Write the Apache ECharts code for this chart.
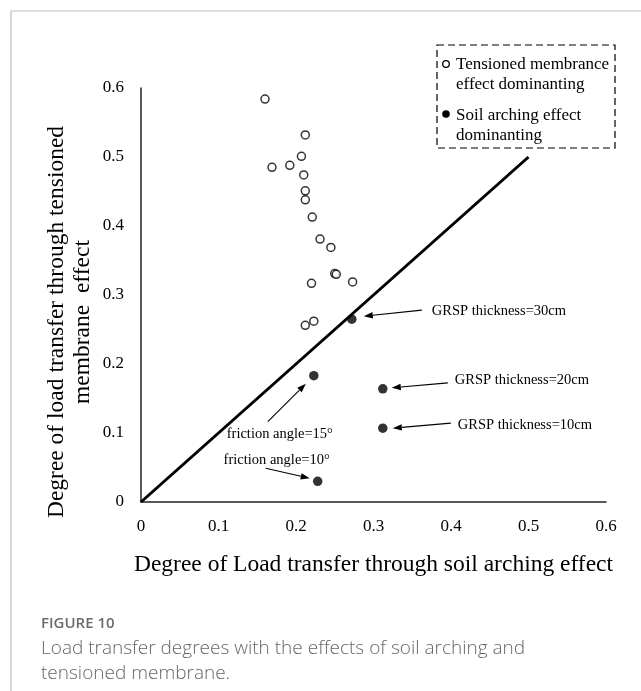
<!DOCTYPE html>
<html>
<head>
<meta charset="utf-8">
<style>
  html, body { margin: 0; padding: 0; background: #fff; }
  #chart { width: 641px; height: 691px; }
</style>
<script src="https://cdn.jsdelivr.net/npm/echarts@6/dist/echarts.min.js"></script>
</head>
<body>
<div id="chart"></div>
<script>
// Cases where the tensioned membrane effect dominates (open circles)
const membraneX = [0.160, 0.212, 0.207, 0.169, 0.192, 0.210, 0.212, 0.212, 0.221, 0.231, 0.245, 0.250, 0.252, 0.273, 0.220, 0.212, 0.223];
const membraneY = [0.584, 0.532, 0.501, 0.485, 0.488, 0.474, 0.451, 0.438, 0.413, 0.381, 0.369, 0.331, 0.330, 0.319, 0.317, 0.256, 0.262];

// Cases where soil arching dominates (filled circles)
const archingX = [0.272, 0.223, 0.312, 0.312, 0.228];
const archingY = [0.265, 0.183, 0.164, 0.107, 0.030];
const archingNotes = ['GRSP thickness=30cm', 'friction angle=15°', 'GRSP thickness=20cm', 'GRSP thickness=10cm', 'friction angle=10°'];

// Equal-share reference line
const refX = [0, 0.5];
const refY = [0, 0.5];

// Axis ticks
const xTicks = [0, 0.1, 0.2, 0.3, 0.4, 0.5, 0.6];
const yTicks = [0, 0.1, 0.2, 0.3, 0.4, 0.5, 0.6];

const serif = '"Liberation Serif", "Times New Roman", serif';
const chart = echarts.init(document.getElementById('chart'), null, { renderer: 'canvas' });

const zip = (xs, ys) => xs.map((x, i) => [x, ys[i]]);

chart.setOption({
  backgroundColor: '#fff',
  animation: false,
  grid: { left: 141, right: 35, top: 88, bottom: 189, containLabel: false },
  xAxis: {
    type: 'value',
    min: xTicks[0], max: xTicks[xTicks.length - 1], interval: 0.1,
    axisLine: { show: true, lineStyle: { color: '#222', width: 1.5 } },
    axisTick: { show: false },
    splitLine: { show: false },
    axisLabel: { color: '#000', fontFamily: serif, fontSize: 17, margin: 16,
                 formatter: v => (Math.round(v * 10) / 10).toString() },
    name: 'Degree of Load transfer through soil arching effect',
    nameLocation: 'middle', nameGap: 51,
    nameTextStyle: { color: '#000', fontFamily: serif, fontSize: 23.5 }
  },
  yAxis: {
    type: 'value',
    min: yTicks[0], max: yTicks[yTicks.length - 1], interval: 0.1,
    axisLine: { show: true, lineStyle: { color: '#222', width: 1.5 } },
    axisTick: { show: false },
    splitLine: { show: false },
    axisLabel: { color: '#000', fontFamily: serif, fontSize: 17, margin: 17,
                 formatter: v => (Math.round(v * 10) / 10).toString() }
  },
  series: [
    {
      type: 'line', data: zip(refX, refY), symbol: 'none', silent: true,
      lineStyle: { color: '#000', width: 3 }, z: 1
    },
    {
      type: 'scatter', data: zip(membraneX, membraneY), symbol: 'circle', symbolSize: 8,
      itemStyle: { color: '#fff', borderColor: '#000', borderWidth: 1.5 }, z: 3
    },
    {
      type: 'scatter', data: zip(archingX, archingY), symbol: 'circle', symbolSize: 9.5,
      itemStyle: { color: '#000' }, z: 3
    }
  ]
});

// Annotation layout: arrow tip, arrow tail and label anchor, offset from each filled point (px)
const noteLayout = [
  { tip: [12, -3], tail: [70, -9], text: [80, -8], align: 'left' },
  { tip: [-8, 8], tail: [-46, 46], text: [-34, 58], align: 'center' },
  { tip: [9, -1], tail: [65, -6], text: [72, -9], align: 'left' },
  { tip: [10, 0], tail: [68, -5], text: [75, -3], align: 'left' },
  { tip: [-8, -3], tail: [-52, -13], text: [-41, -21], align: 'center' }
];

function arrow(x1, y1, x2, y2) {
  const ang = Math.atan2(y2 - y1, x2 - x1);
  const len = 9, half = 3.2;
  const bx = x2 - len * Math.cos(ang), by = y2 - len * Math.sin(ang);
  const px = -Math.sin(ang) * half, py = Math.cos(ang) * half;
  return [
    { type: 'line', shape: { x1: x1, y1: y1, x2: bx, y2: by }, style: { stroke: '#000', lineWidth: 1.1 }, z: 5 },
    { type: 'polygon', shape: { points: [[x2, y2], [bx + px, by + py], [bx - px, by - py]] }, style: { fill: '#000' }, z: 5 }
  ];
}

const graphics = [];

// Card border
graphics.push({ type: 'polyline', shape: { points: [[11, 691], [11, 11], [641, 11]] },
  style: { stroke: '#bdbdbd', lineWidth: 1.2, fill: null }, silent: true });

// Y axis title (two lines, rotated)
graphics.push({ type: 'text', x: 70, y: 322, rotation: Math.PI / 2,
  style: { text: 'Degree of load transfer through tensioned\nmembrane  effect', fill: '#000',
           font: '23.5px ' + serif, align: 'center', verticalAlign: 'middle', lineHeight: 26 } });

// Legend box
graphics.push({ type: 'rect', shape: { x: 437, y: 45, width: 178, height: 103 },
  style: { fill: null, stroke: '#000', lineWidth: 1.2, lineDash: [7, 4] } });
graphics.push({ type: 'circle', shape: { cx: 446, cy: 64, r: 3.3 },
  style: { fill: '#fff', stroke: '#000', lineWidth: 1.3 } });
graphics.push({ type: 'text', x: 456, y: 54.5,
  style: { text: 'Tensioned membrance\neffect dominanting', fill: '#000', font: '17px ' + serif,
           align: 'left', verticalAlign: 'top', lineHeight: 20 } });
graphics.push({ type: 'circle', shape: { cx: 446, cy: 114, r: 3.8 }, style: { fill: '#000' } });
graphics.push({ type: 'text', x: 456, y: 105.5,
  style: { text: 'Soil arching effect\ndominanting', fill: '#000', font: '17px ' + serif,
           align: 'left', verticalAlign: 'top', lineHeight: 20 } });

// Figure caption
graphics.push({ type: 'text', x: 41, y: 624,
  style: { text: 'FIGURE 10', fill: '#6b6b6b', font: '600 15px "Open Sans", "Noto Sans", sans-serif',
           align: 'left', verticalAlign: 'middle' } });
graphics.push({ type: 'text', x: 41, y: 636,
  style: { text: 'Load transfer degrees with the effects of soil arching and\ntensioned membrane.',
           fill: '#666', font: '300 19px "Open Sans", "Noto Sans", sans-serif',
           align: 'left', verticalAlign: 'top', lineHeight: 25 } });

// Point annotations
archingX.forEach((x, i) => {
  const p = chart.convertToPixel({ seriesIndex: 2 }, [x, archingY[i]]);
  const L = noteLayout[i];
  graphics.push(...arrow(p[0] + L.tail[0], p[1] + L.tail[1], p[0] + L.tip[0], p[1] + L.tip[1]));
  graphics.push({ type: 'text', x: p[0] + L.text[0], y: p[1] + L.text[1],
    style: { text: archingNotes[i], fill: '#000', font: '14.5px ' + serif,
             align: L.align, verticalAlign: 'middle' }, z: 5 });
});

chart.setOption({ graphic: graphics });
</script>
</body>
</html>
